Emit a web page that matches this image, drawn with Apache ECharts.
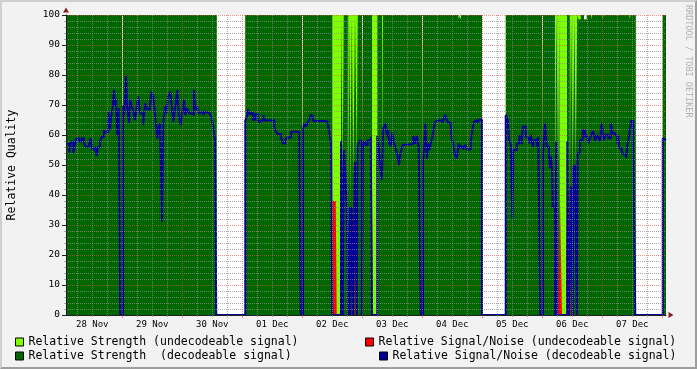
<!DOCTYPE html>
<html><head><meta charset="utf-8">
<script src="https://cdn.jsdelivr.net/npm/echarts@6/dist/echarts.min.js"></script>
<style>
html,body{margin:0;padding:0;background:#F2F2F2;}
#c{width:697px;height:369px;position:absolute;left:0;top:0;}
#frame{position:absolute;left:0;top:0;width:697px;height:369px;box-sizing:border-box;border-style:solid;border-width:2px;border-color:#CFCFCF #9E9E9E #9E9E9E #CFCFCF;pointer-events:none;}
</style></head><body>
<div id="c"></div><div id="frame"></div>
<script>
// time axis: hours since 28 Nov 00:00
const viewStart = 1.5, viewEnd = 241.5;
const dayLabels = ['28 Nov','29 Nov','30 Nov','01 Dec','02 Dec','03 Dec','04 Dec','05 Dec','06 Dec','07 Dec'];
const yTicks = [0,10,20,30,40,50,60,70,80,90,100];

// Relative Strength: change points (hours) and values (step); undecodeable is stacked on decodeable
const tStrength = [1.5,23.9,24.3,61.8,73.2,95.9,96.3,108.0,111.5,112.2,112.6,114.4,115.0,115.2,115.8,116.4,117.1,117.8,118.2,119.9,120.3,123.9,126.0,127.9,128.3,143.9,144.3,158.4,158.8,159.2,159.6,167.9,177.4,191.9,192.3,197.1,197.6,198.4,198.8,199.1,201.9,203.0,203.5,204.2,204.9,205.4,206.0,206.5,207.4,208.7,209.8,211.5,211.9,216.1,216.5,226.9,227.4,229.4,240.2,241.5];
const strengthDec = [100,0,100,0,100,0,100,0,100,49,100,40,100,38,100,46,100,51,100,58,100,0,100,45,100,52,100,98.5,100,98.5,100,0,100,55,100,36,100,50,100,0,100,38,100,49,100,50,100,98.5,100,98.5,100,98.5,100,98.5,100,98.5,100,0,100,100];
const strengthUndec = [0,0,0,0,0,0,0,100,0,51,0,60,0,62,0,54,0,49,0,0,0,100,0,55,0,0,0,1.5,0,0,0,0,0,0,0,64,0,50,0,100,0,62,0,51,0,50,0,1.5,0,0,0,1.5,0,1.5,0,1.5,0,0,0,0];

// Relative Signal/Noise (undecodeable)
const tSnUndec = [1.5,108.0,109.4,109.8,112.2,112.6,115.2,115.6,116.6,117.1,123.9,124.3,198.0,198.5,199.1,199.9,201.5,202.3,203.0,203.5,205.8,206.2,241.5];
const snUndec = [0,38,37,0,49,0,38,0,46,0,40,0,50,0,38,0,38,0,38,0,50,0,0];

// Relative Signal/Noise (decodeable)
const tSnDec = [1.5,2.8,3.5,4.4,5.1,5.8,6.8,7.8,8.7,9.5,10.8,11.4,12.0,13.1,13.8,14.2,15.1,15.8,16.7,17.2,18.4,19.1,19.5,20.2,20.7,21.1,21.5,22.0,22.6,23.2,
24.3,24.7,25.1,25.5,25.9,26.3,26.7,27.1,27.8,28.4,29.1,29.8,30.4,31.1,32.4,33.1,33.8,34.4,35.1,35.6,36.4,37.2,38.0,38.6,39.1,39.9,40.4,41.2,41.8,42.3,43.1,43.8,44.4,45.2,46.0,46.6,47.4,47.9,48.7,49.2,50.0,50.8,51.8,52.7,53.2,54.0,54.6,55.1,56.4,57.2,58.0,59.1,59.9,60.4,61.1,61.6,
73.2,73.9,74.3,74.8,75.5,76.2,77.1,78.2,78.8,79.5,80.4,81.1,82.2,84.8,85.5,86.2,87.5,88.2,89.2,89.9,91.5,94.8,95.4,
96.3,96.5,97.0,97.5,98.0,98.8,99.5,100.2,100.4,105.1,106.0,106.8,107.5,108.0,111.5,112.2,112.7,113.2,113.8,114.4,115.0,115.2,115.8,116.4,117.1,117.8,118.2,118.8,119.8,120.3,120.7,121.2,122.2,122.8,123.4,123.9,126.0,126.6,127.1,127.8,128.4,129.2,130.0,130.3,130.8,131.4,132.0,132.7,133.2,133.8,134.2,134.7,135.1,135.6,136.2,136.7,140.4,141.1,141.8,142.6,143.4,
144.3,144.7,145.2,145.9,146.3,146.8,147.4,147.9,148.4,149.0,149.8,152.2,152.7,153.2,153.8,154.4,155.4,155.9,156.4,157.1,157.8,158.6,159.1,159.8,160.4,161.1,161.8,163.4,164.0,164.7,165.5,166.0,166.7,167.5,167.9,
177.4,178.2,178.7,179.4,180.0,180.4,181.8,182.8,183.8,184.2,185.4,186.2,186.8,187.4,188.2,188.8,189.8,190.4,191.2,
192.3,193.1,193.8,194.7,195.1,195.5,195.9,196.2,197.1,197.6,198.0,202.0,202.8,203.5,204.2,204.4,205.1,205.8,206.2,207.1,208.2,209.1,209.8,210.4,211.1,211.8,212.4,213.1,213.8,214.4,215.1,215.8,216.2,216.7,217.5,218.4,219.4,220.2,221.1,222.0,222.3,222.8,223.8,224.4,225.5,226.2,226.8,227.5,228.4,229.2,
240.2,240.7,241.5];
const snDec = [57,54.1,57.8,54,57,58.9,57.8,58.9,57,56.1,57,58.9,55.2,56,53,56,57.8,59.4,61.7,61,67.8,61.7,66,69.4,75,69.7,71.7,60,68.9,0,
69.7,66.7,71.7,79.7,69.4,67.4,63.9,71.7,69.7,67.8,65,69.4,72.8,67.2,63.3,70.6,68.9,68.3,69.4,74.4,72.8,66.1,58.9,62.8,63.9,31.1,63.9,69.7,67.2,72.8,74.4,69.4,64.4,69.4,75,66.7,63.3,66.7,71.7,66.7,68.9,67.2,66.7,75,68.3,69.4,67.2,67.8,66.7,67.8,67.2,66.7,65,62.8,58.3,0,
64.8,66.3,68.6,67,67.4,65,67,65,64.1,64.8,66.7,64.8,65,62.8,61.1,60.3,59.2,57.2,58.3,59.2,61.1,61.4,0,
61.7,62.8,63.9,62.8,63.9,65,66.9,66.1,64.7,64.4,63.9,61.1,57.2,0,58,0,55,47,36,0,36,0,36,0,51,0,56,58,0,57.2,57.8,56.7,58.3,57.8,59.4,0,59.7,56,50.6,45,62.2,63.9,59.4,61.7,57.2,56.3,60.8,57.2,56.1,54.1,52.8,50,52.8,55,56.7,57,59.7,57.2,59.7,56,0,
51.1,53.9,63.9,52.2,57.2,55,57.2,58.9,61.1,64.1,64.8,64.1,65.9,66.7,65,64.1,61.7,58.3,57.2,53.3,52.2,57.2,55.6,56.4,55.2,56.7,55.2,57.8,61.1,64.4,65,64.1,65,65.2,0,
66.7,65,58.3,57,32.2,55,57.2,59.7,57,62.8,59.4,58.9,57.2,60,56.1,58.3,56.1,59.4,0,
53.9,63.9,56.1,52.8,48.9,52.8,48.9,36.1,0,57.8,0,57.8,0,42.8,0,48.9,50,0,53.9,58.3,61.7,59.4,60.2,57.2,58.9,60.6,61.3,58,60,59.2,58,63.9,61.1,58.3,60.2,58.9,63.9,60.6,59.8,57.2,60,55.6,54.4,53.6,52.4,57.2,60,64.7,59.4,0,
58.9,58.3,58.3];

const names = {
  su: 'Relative Strength (undecodeable signal)',
  nu: 'Relative Signal/Noise (undecodeable signal)',
  sd: 'Relative Strength  (decodeable signal)',
  nd: 'Relative Signal/Noise (decodeable signal)'
};
const C = { sd:'#006600', su:'#80FF00', nu:'#FF0000', nd:'#000099' };
const MONO = '"DejaVu Sans Mono", monospace';
const GRID = 'rgba(143,143,143,0.75)';
const MGRID = 'rgba(222,79,79,0.6)';
const AXIS = '#1F1F1F';
const ARROW = '#801F1F';

const minorHours = [];
for (let h = Math.ceil(viewStart / 6) * 6; h <= viewEnd; h += 6) if (h % 24 !== 0) minorHours.push(h);
const majorHours = [];
for (let h = Math.ceil(viewStart / 24) * 24; h <= viewEnd; h += 24) majorHours.push(h);
const labelHours = dayLabels.map((d, i) => 12 + 24 * i);

const zip = (t, v) => t.map((x, i) => [x, v[i]]);
// top of the stacked undecodeable strength band (decodeable + undecodeable)
const strengthStackTop = tStrength.map((x, i) => [x, strengthDec[i] + strengthUndec[i]]);

const axisBase = { type:'value', min:viewStart, max:viewEnd, position:'bottom', z:10 };
const legendBase = { orient:'horizontal', padding:0, itemWidth:8, itemHeight:8, icon:'rect', itemGap:0, selectedMode:false,
  textStyle:{ fontFamily:MONO, fontSize:11.5, color:'#000' }, itemStyle:{ borderColor:'#000', borderWidth:1 } };

const chart = echarts.init(document.getElementById('c'), null, { renderer:'canvas' });
chart.setOption({
  animation:false,
  backgroundColor:'#F2F2F2',
  grid:{ left:66, top:15, width:600, height:300, show:true, backgroundColor:'#FFFFFF', borderWidth:0, containLabel:false, outerBoundsMode:'none' },
  xAxis:[
    Object.assign({}, axisBase, {
      axisLine:{ show:true, onZero:false, lineStyle:{ color:AXIS, width:1 } },
      axisTick:{ show:true, customValues:minorHours, length:2, lineStyle:{ color:GRID } },
      splitLine:{ show:true, lineStyle:{ color:GRID, type:[1,1], width:1 } },
      axisLabel:{ show:true, customValues:labelHours, formatter:(v) => dayLabels[Math.round((v - 12) / 24)],
        fontFamily:MONO, fontSize:9, color:'#000', margin:5 }
    }),
    Object.assign({}, axisBase, {
      axisLine:{ show:false, onZero:false },
      axisTick:{ show:true, customValues:majorHours, length:3, lineStyle:{ color:MGRID } },
      splitLine:{ show:true, lineStyle:{ color:MGRID, type:[1,1], width:1 } },
      axisLabel:{ show:false }
    }),
    Object.assign({}, axisBase, {
      axisLine:{ show:true, onZero:false, symbol:['none','triangle'], symbolSize:[6,5], symbolOffset:[0,5], lineStyle:{ color:ARROW, width:0 } },
      axisTick:{ show:false }, splitLine:{ show:false }, axisLabel:{ show:false }
    })
  ],
  yAxis:[
    { type:'value', min:0, max:100, interval:10, position:'left', z:10,
      axisLine:{ show:true, onZero:false, lineStyle:{ color:AXIS } },
      axisTick:{ show:true, length:4, lineStyle:{ color:AXIS } },
      minorTick:{ show:true, splitNumber:5, length:2, lineStyle:{ color:GRID } },
      splitLine:{ show:true, lineStyle:{ color:MGRID, type:[1,1], width:1 } },
      minorSplitLine:{ show:true, lineStyle:{ color:GRID, type:[1,1], width:1 } },
      axisLabel:{ fontFamily:MONO, fontSize:9.5, color:'#000', margin:6, customValues:yTicks },
      name:'Relative Quality', nameLocation:'middle', nameGap:48,
      nameTextStyle:{ fontFamily:MONO, fontSize:11.5, color:'#000' } },
    { type:'value', min:0, max:100, position:'left', z:10,
      axisLine:{ show:true, onZero:false, symbol:['none','triangle'], symbolSize:[6,5], symbolOffset:[0,5], lineStyle:{ color:ARROW, width:0 } },
      axisTick:{ show:false }, splitLine:{ show:false }, axisLabel:{ show:false } }
  ],
  legend:[
    Object.assign({}, legendBase, { data:[names.su], left:15, top:336 }),
    Object.assign({}, legendBase, { data:[names.nu], left:365, top:336 }),
    Object.assign({}, legendBase, { data:[names.sd], left:15, top:350 }),
    Object.assign({}, legendBase, { data:[names.nd], left:379, top:350 })
  ],
  graphic:[
    { type:'text', x:688, y:5, rotation:-Math.PI/2, silent:true,
      style:{ text:'RRDTOOL / TOBI OETIKER', fill:'#B0B0B0', font:'8.5px "DejaVu Sans Mono", monospace', textAlign:'left', textVerticalAlign:'middle' } }
  ],
  series:[
    { name:names.su, type:'line', step:'end', data:strengthStackTop, symbol:'none', silent:true,
      color:C.su, itemStyle:{ color:C.su }, lineStyle:{ width:0 }, areaStyle:{ color:C.su, opacity:1 }, z:2 },
    { name:names.sd, type:'line', step:'end', data:zip(tStrength, strengthDec), symbol:'none', silent:true,
      color:C.sd, itemStyle:{ color:C.sd }, lineStyle:{ width:0 }, areaStyle:{ color:C.sd, opacity:1 }, z:2 },
    { name:names.nu, type:'line', step:'end', data:zip(tSnUndec, snUndec), symbol:'none', silent:true,
      color:C.nu, itemStyle:{ color:C.nu }, lineStyle:{ width:0 }, areaStyle:{ color:C.nu, opacity:1 }, z:3 },
    { name:names.nd, type:'line', step:'end', data:zip(tSnDec, snDec), symbol:'none', silent:true,
      color:C.nd, itemStyle:{ color:C.nd }, lineStyle:{ width:2, color:C.nd }, z:4 }
  ]
});
</script></body></html>
